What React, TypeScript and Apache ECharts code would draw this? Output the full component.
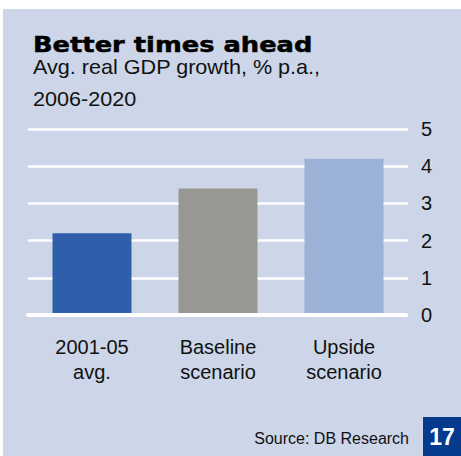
import React, { useEffect, useRef } from "react";
import * as echarts from "echarts";

const categories = ["2001-05\navg.", "Baseline\nscenario", "Upside\nscenario"];
const values = [2.2, 3.4, 4.2];
const barColors = ["#2F5EAA", "#999794", "#9BB1D8"];
const yTicks = [0, 1, 2, 3, 4, 5];

const title = "Better times ahead";
const subtitle = "Avg. real GDP growth, % p.a.,\n2006-2020";
const source = "Source: DB Research";
const pageNo = "17";

const FONT = "Liberation Sans, Arial, sans-serif";

export default function App() {
  const ref = useRef<HTMLDivElement>(null);
  useEffect(() => {
    if (!ref.current) return;
    const chart = echarts.init(ref.current, undefined, { renderer: "svg" });
    chart.setOption({
      animation: false,
      backgroundColor: "#ffffff",
      textStyle: { fontFamily: FONT },
      grid: { left: 29, right: 54, top: 129, bottom: 141, containLabel: false },
      xAxis: {
        type: "category",
        data: categories,
        axisLine: { show: false },
        axisTick: { show: false },
        axisLabel: {
          color: "#111",
          fontSize: 20,
          lineHeight: 25,
          margin: 19,
          fontFamily: FONT,
        },
      },
      yAxis: {
        type: "value",
        position: "right",
        min: yTicks[0],
        max: yTicks[yTicks.length - 1],
        interval: 1,
        axisLine: { show: false },
        axisTick: { show: false },
        axisLabel: {
          color: "#111",
          fontSize: 20,
          margin: 14,
          align: "left",
          fontFamily: FONT,
        },
        splitLine: { show: true, lineStyle: { color: "#ffffff", width: 2.5, cap: "round" } },
      },
      graphic: [
        {
          type: "rect",
          z: -10,
          silent: true,
          shape: { x: 3, y: 9, width: 458, height: 447 },
          style: { fill: "#CCD6E8" },
        },
        {
          type: "line",
          z: 10,
          silent: true,
          shape: { x1: 28, y1: 315, x2: 406, y2: 315 },
          style: { stroke: "#ffffff", lineWidth: 4, lineCap: "round" },
        },
        {
          type: "text",
          x: 33,
          y: 45,
          scaleX: 1.17,
          style: {
            text: title,
            fontSize: 22,
            fontWeight: "bold",
            fontFamily: "DejaVu Sans, Liberation Sans, sans-serif",
            fill: "#000",
            stroke: "#000",
            lineWidth: 0.5,
            align: "left",
            verticalAlign: "middle",
          },
        },
        {
          type: "text",
          x: 33,
          y: 83,
          scaleX: 1.08,
          style: {
            text: subtitle,
            fontSize: 20,
            lineHeight: 32,
            fontFamily: FONT,
            fill: "#111",
            align: "left",
            verticalAlign: "middle",
          },
        },
        {
          type: "text",
          x: 409,
          y: 438,
          style: {
            text: source,
            fontSize: 16,
            fontFamily: FONT,
            fill: "#111",
            align: "right",
            verticalAlign: "middle",
          },
        },
        {
          type: "rect",
          silent: true,
          shape: { x: 423, y: 417, width: 38, height: 39 },
          style: { fill: "#063A8C" },
        },
        {
          type: "text",
          x: 442,
          y: 437,
          style: {
            text: pageNo,
            fontSize: 23,
            fontWeight: "bold",
            fontFamily: FONT,
            fill: "#ffffff",
            align: "center",
            verticalAlign: "middle",
          },
        },
      ],
      series: [
        {
          type: "bar",
          barWidth: 79,
          data: values.map((v, i) => ({ value: v, itemStyle: { color: barColors[i] } })),
        },
      ],
    });
    return () => chart.dispose();
  }, []);
  return (
    <div
      ref={ref}
      style={{ position: "fixed", left: 0, top: 0, width: 461, height: 456 }}
    />
  );
}
